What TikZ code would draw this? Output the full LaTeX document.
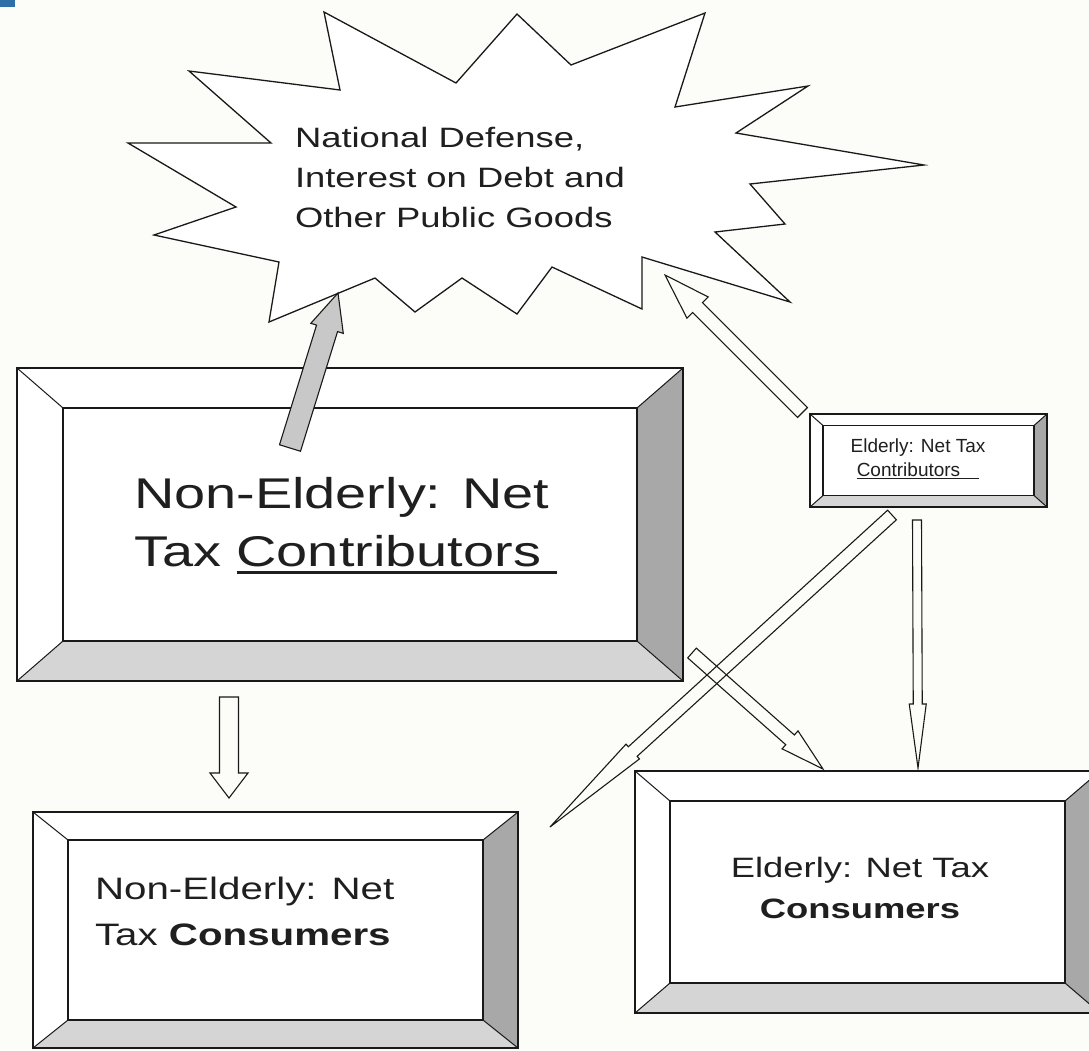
\documentclass[tikz,border=0pt]{standalone}
\usepackage{fontspec}
\setmainfont[FakeStretch=1.3]{Liberation Sans}
\newfontfamily\plainsans{Liberation Sans}
\usepackage{tikz}
\usetikzlibrary{positioning, calc}
\definecolor{pagebg}{RGB}{252,252,248}
\definecolor{bevdark}{RGB}{168,168,168}
\definecolor{bevlight}{RGB}{213,213,213}
\definecolor{arrowgray}{RGB}{200,200,200}
\definecolor{slideblue}{RGB}{47,111,168}
\tikzstyle{bevelbox}=[%
      rectangle, draw=none, inner sep=0pt, outer sep=0pt
]
\tikzstyle{edge}=[%
      draw=black!90, line width=1.5pt, line join=miter
]
\tikzstyle{starline}=[%
      draw=black!90, fill=white, line width=1.3pt, line join=miter
]
\tikzstyle{blockarrow}=[%
      draw=black!90, fill=none, line width=1.1pt, line join=miter
]
\tikzstyle{boxtext}=[%
      inner sep=0pt, outer sep=0pt, text=black!88
]
\newcommand{\undl}[1]{\setbox0=\hbox{#1}\rlap{\rule[-0.18em]{\wd0}{0.07em}}\box0}
\newcommand{\bevel}[3]{%
  \coordinate (#1-nw) at (#1.north west);
  \coordinate (#1-ne) at (#1.north east);
  \coordinate (#1-se) at (#1.south east);
  \coordinate (#1-sw) at (#1.south west);
  \coordinate (#1-inw) at ($(#1-nw)+(#2,#3)$);
  \coordinate (#1-ine) at ($(#1-ne)+(-#2,#3)$);
  \coordinate (#1-ise) at ($(#1-se)+(-#2,-#3)$);
  \coordinate (#1-isw) at ($(#1-sw)+(#2,-#3)$);
  \fill[white] (#1-nw) -- (#1-ne) -- (#1-ine) -- (#1-inw) -- cycle;
  \fill[white] (#1-nw) -- (#1-inw) -- (#1-isw) -- (#1-sw) -- cycle;
  \fill[bevdark] (#1-ne) -- (#1-se) -- (#1-ise) -- (#1-ine) -- cycle;
  \fill[bevlight] (#1-sw) -- (#1-isw) -- (#1-ise) -- (#1-se) -- cycle;
  \fill[white] (#1-inw) rectangle (#1-ise);
  \draw[edge] (#1-nw) rectangle (#1-se);
  \draw[edge] (#1-inw) rectangle (#1-ise);
  \draw[edge, line width=1pt] (#1-nw) -- (#1-inw) (#1-ne) -- (#1-ine)
       (#1-se) -- (#1-ise) (#1-sw) -- (#1-isw);
}
\newcommand{\blockarrow}[6][]{%
  \coordinate (#2-h) at ($(#3)!#6!(#2)$);
  \draw[blockarrow, #1] ($(#2)!#4!90:(#3)$) -- ($(#2-h)!#4!-90:(#2)$)
       -- ($(#2-h)!#5!-90:(#2)$) -- (#3) -- ($(#2-h)!#5!90:(#2)$)
       -- ($(#2-h)!#4!90:(#2)$) -- ($(#2)!#4!-90:(#3)$) -- cycle;
}

\begin{document}
\begin{tikzpicture}[x=1pt, y=-1pt]
    \useasboundingbox (0,0) rectangle (1089,1050);
    \clip (0,0) rectangle (1089,1050);
    \fill[pagebg] (0,0) rectangle (1089,1050);
    \fill[slideblue] (0,0) rectangle (15,7);

    \draw[starline] (324,12) -- (340,90) -- (189,71) -- (271,143) -- (128,143)
        -- (236,207) -- (154,235) -- (279,262) -- (269,322) -- (375,278)
        -- (415,312) -- (462,278) -- (517,314) -- (552,267) -- (642,309)
        -- (642,257) -- (790,302) -- (715,232) -- (785,224) -- (750,184)
        -- (924,165) -- (736,133) -- (808,86) -- (675,107) -- (705,13)
        -- (571,65) -- (517,14) -- (456,83) -- cycle;

    \node[bevelbox, minimum width=666pt, minimum height=313pt] (nonold) at (350,524.5) {};
    \node[bevelbox, minimum width=237pt, minimum height=93pt] (oldpay) at (928.5,460.5) {};
    \node[bevelbox, minimum width=485pt, minimum height=236pt] (nonoldcons) at (275.5,930) {};
    \node[bevelbox, minimum width=465pt, minimum height=242pt] (oldcons) at (867.5,892) {};
    \bevel{nonold}{46}{40}
    \bevel{oldpay}{13}{11.5}
    \bevel{nonoldcons}{35}{28}
    \bevel{oldcons}{35}{30}

    \coordinate (ng) at (290,448);    \coordinate (goodsA) at (338,293);
    \coordinate (eg) at (802.5,412.5); \coordinate (goodsB) at (665,275);
    \coordinate (nn) at (229,697);    \coordinate (nntip) at (229,798);
    \coordinate (ee) at (917,520);    \coordinate (eetip) at (918,768);
    \coordinate (ex) at (892,515);    \coordinate (extip) at (550,827);
    \coordinate (nx) at (692,653);    \coordinate (nxtip) at (823,769);
    \blockarrow[fill=arrowgray]{ng}{goodsA}{11pt}{17pt}{37pt}
    \blockarrow{eg}{goodsB}{7pt}{15pt}{46pt}
    \blockarrow{nn}{nntip}{9.5pt}{19pt}{25pt}
    \blockarrow{ee}{eetip}{4.5pt}{8.5pt}{64pt}
    \blockarrow{ex}{extip}{6.5pt}{10pt}{112pt}
    \blockarrow{nx}{nxtip}{6.5pt}{12pt}{44pt}

    \node[boxtext, anchor=base west, align=left, font=\fontsize{28}{40}\selectfont]
        (goods) at (295,227) {National Defense,\\Interest on Debt and\\Other Public Goods};
    \node[boxtext, anchor=base west, align=left, font=\fontsize{43}{58}\selectfont]
        (nonoldtext) at (134,566) {Non-Elderly: Net\\Tax \undl{Contributors\ }};
    \node[boxtext, anchor=base, align=center, font=\plainsans\fontsize{19}{24}\selectfont]
        (oldpaytext) at (918,476) {Elderly: Net Tax\\\undl{Contributors\hspace{1em}}};
    \node[boxtext, anchor=base west, align=left, font=\fontsize{31}{46}\selectfont]
        (nonoldconstext) at (95,945) {Non-Elderly: Net\\Tax \textbf{Consumers}};
    \node[boxtext, anchor=base, align=center, font=\fontsize{28}{41}\selectfont]
        (oldconstext) at (860,918) {Elderly: Net Tax\\\textbf{Consumers}};
\end{tikzpicture}
\end{document}
